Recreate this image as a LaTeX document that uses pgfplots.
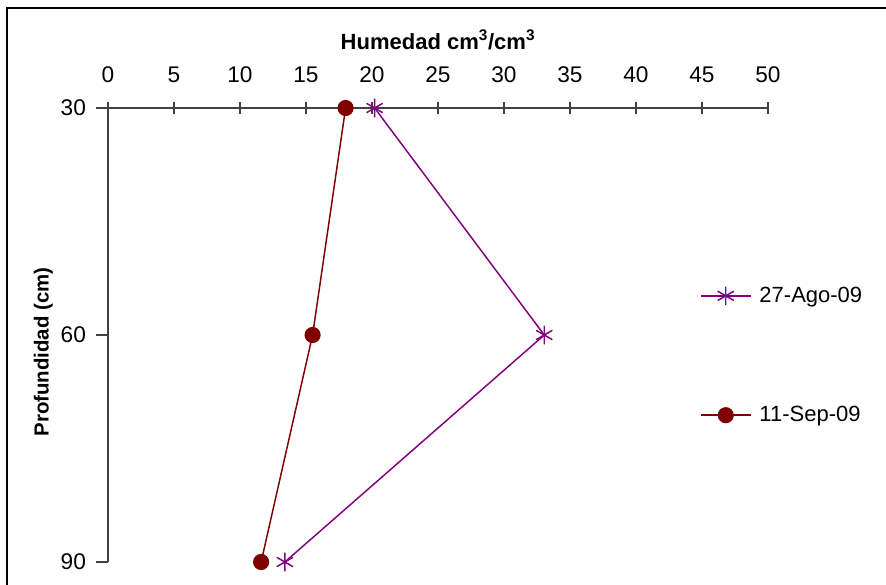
\documentclass[border=0pt]{standalone}
\usepackage{pgfplots}
\pgfplotsset{compat=1.18}
\usepackage{fontspec}
\setmainfont{Liberation Sans}
\definecolor{cpurple}{RGB}{128,0,128}
\definecolor{cred}{RGB}{128,0,0}
\begin{document}
\begin{tikzpicture}
\begin{axis}[
  at={(81pt,-81pt)}, anchor=north west,
  scale only axis, width=495pt, height=340.5pt,
  xmin=0, xmax=50, ymin=30, ymax=90,
  y dir=reverse,
  axis x line*=top, axis y line*=left,
  axis line style={-, black!75, line width=0.8pt},
  xtick={0,5,...,50}, ytick={30,60,90},
  xtick align=center, ytick align=outside,
  major tick length=9pt,
  every tick/.style={black!75, line width=0.8pt},
  tick label style={font=\fontsize{17}{20}\selectfont},
  xticklabel style={yshift=11pt},
  yticklabel style={xshift=-4pt},
  /pgf/number format/assume math mode=true,
  xlabel={\textbf{Humedad cm\textsuperscript{3}/cm\textsuperscript{3}}},
  ylabel={\textbf{Profundidad (cm)}},
  xlabel style={at={(axis description cs:0.5,1.15)}, anchor=center, font=\fontsize{16.5}{19}\selectfont},
  ylabel style={at={(axis description cs:-0.098,0.4626)}, anchor=center, font=\fontsize{15.3}{18}\selectfont},
  clip=false,
  legend style={draw=none, fill=none, inner sep=0pt, outer sep=0pt,
    font=\fontsize{16.5}{19}\selectfont, row sep=74.5pt,
    anchor=west, at={(axis description cs:0.897,0.4548)},
    nodes={inner sep=1pt},
    /tikz/every odd column/.append style={column sep=5pt}},
  legend cell align=left,
  legend image code/.code={\draw[mark repeat=2,mark phase=2] plot coordinates {(0pt,0pt)(18.75pt,0pt)(37.5pt,0pt)};},
]
\addplot[cpurple, line width=1.1pt, mark=asterisk, mark size=7pt, mark options={line width=1.1pt}]
  coordinates {(20.2,30) (33.05,60) (13.4,90)};
\addlegendentry{27-Ago-09}
\addplot[cred, line width=1.1pt, mark=*, mark size=5.5pt, mark options={fill=cred}]
  coordinates {(18.0,30) (15.5,60) (11.6,90)};
\addlegendentry{11-Sep-09}
\end{axis}
\draw[black, line width=1.2pt] (5.25pt,-440pt) -- (5.25pt,-6pt) -- (670pt,-6pt);
\pgfresetboundingbox
\path (0,0) rectangle (664.5pt,-438.75pt);
\end{tikzpicture}
\end{document}
